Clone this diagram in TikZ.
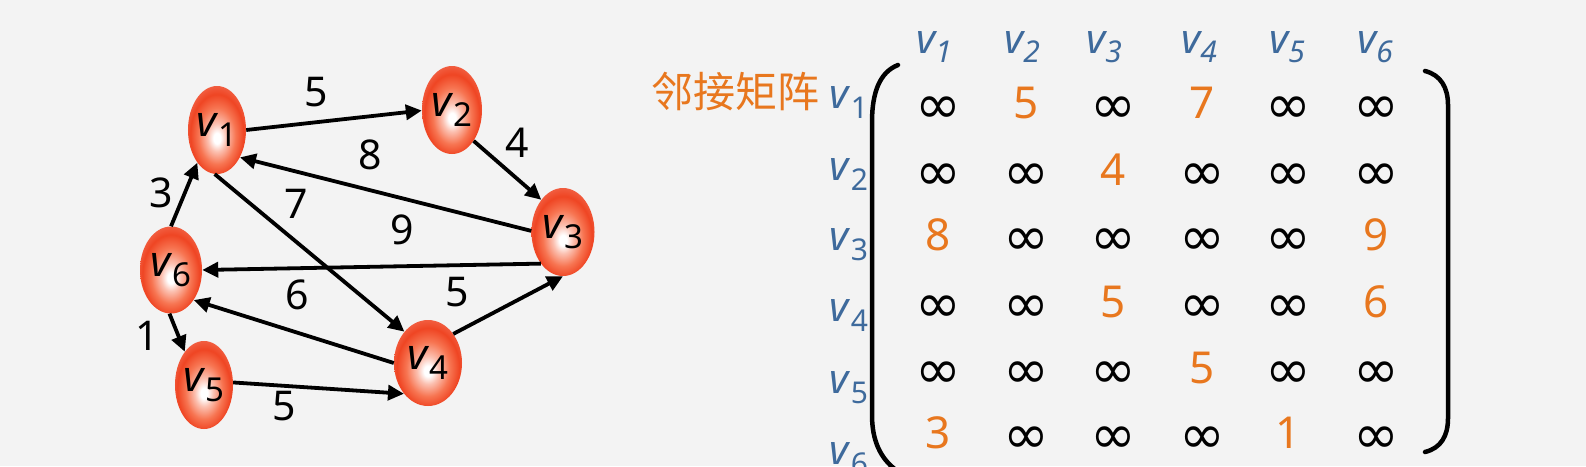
\documentclass[tikz,border=0pt]{standalone}
\usepackage{fontspec}
\setmainfont{Noto Sans}
\newfontfamily\cjk{Noto Sans CJK SC}
\newfontfamily\djv{DejaVu Sans}
\usetikzlibrary{shapes.geometric,arrows.meta}
\definecolor{bg}{HTML}{F3F3F3}
\definecolor{nodeouter}{HTML}{EF4523}
\definecolor{nodemid}{HTML}{F77552}
\definecolor{lblue}{HTML}{3E6A9C}
\definecolor{lorange}{HTML}{E8771E}
\pgfdeclareradialshading{vshade}{\pgfpoint{0bp}{-5bp}}{color(0bp)=(white); color(3bp)=(white); color(8bp)=(white!55!nodemid); color(16bp)=(nodemid); color(23bp)=(nodeouter); color(28bp)=(nodeouter!85!white); color(50bp)=(nodeouter!85!white)}
\newcommand{\vl}[1]{\textit{v}\raisebox{-10pt}{\fontsize{33}{33}\selectfont #1}}
\newcommand{\hl}[1]{\textit{v\raisebox{-9pt}{\fontsize{30}{30}\selectfont #1}}}
\newcommand{\rl}[1]{\textit{v}\raisebox{-10pt}{\fontsize{30}{30}\selectfont #1}}
\newcommand{\infsym}{\raisebox{-5pt}{\djv\fontsize{55}{55}\selectfont ∞}}
\tikzset{
  vert/.style={ellipse, shade, shading=vshade, inner sep=0pt, font=\fontsize{43}{43}\selectfont},
  edge/.style={line width=3.8pt, -{Triangle[length=16pt,width=15pt]}},
  wlab/.style={font=\fontsize{41}{41}\selectfont, text height=29pt, text depth=0pt, inner sep=0pt},
  cell/.style={font=\fontsize{44}{44}\selectfont, text height=31pt, text depth=0pt, inner sep=0pt},
  num/.style={cell, text=lorange},
  hdr/.style={text=lblue, font=\fontsize{41}{41}\selectfont, anchor=base, inner sep=0pt},
  brk/.style={line width=4.5pt, line cap=round},
}
\begin{document}
\begin{tikzpicture}[x=1pt,y=-1pt]
\fill[bg] (0,0) rectangle (1586,466);
\useasboundingbox (0,0) rectangle (1586,466);
% graph nodes
\node[vert, minimum width=58pt, minimum height=88pt] (v1) at (217,130) {\vl{1}};
\node[vert, minimum width=60pt, minimum height=88pt] (v2) at (452,110) {\vl{2}};
\node[vert, minimum width=63pt, minimum height=88pt] (v3) at (563,232) {\vl{3}};
\node[vert, minimum width=68pt, minimum height=86pt] (v4) at (428,363) {\vl{4}};
\node[vert, minimum width=54pt, minimum height=88pt] (v5) at (204,385) {\vl{5}};
\node[vert, minimum width=62pt, minimum height=87pt] (v6) at (171,270) {\vl{6}};
% edges
\draw[edge] (v1.0) -- (v2.181);
\draw[edge] (v2.305) -- (v3.124);
\draw[edge] (v3.178) -- (v1.-50);
\draw[edge] (v1.-93) -- (v4.127);
\draw[edge] (v3.235) -- (v6.0);
\draw[edge] (v4.49) -- (v3.-90);
\draw[edge] (v4.180) -- (v6.-53);
\draw[edge] (v6.90) -- (v1.239);
\draw[edge] (v6.-92) -- (v5.120);
\draw[edge] (v5.5) -- (v4.232);
% edge labels
\node[wlab] (w12) at (316,92) {5};
\node[wlab] (w23) at (517,143) {4};
\node[wlab] (w31) at (370,155) {8};
\node[wlab] (w14) at (296,204) {7};
\node[wlab] (w36) at (402,230) {9};
\node[wlab] (w46) at (297,295) {6};
\node[wlab] (w43) at (457,292) {5};
\node[wlab] (w61) at (161,193) {3};
\node[wlab] (w65) at (147,336) {1};
\node[wlab] (w54) at (284,406) {5};
% title
\node[text=lorange, font=\cjk\fontsize{42}{42}\selectfont, anchor=base, inner sep=0pt] (title) at (735,107) {邻接矩阵};
% column headers
\node[hdr] (h1) at (934,53) {\hl{1}};
\node[hdr] (h2) at (1022,53) {\hl{2}};
\node[hdr] (h3) at (1104,53) {\hl{3}};
\node[hdr] (h4) at (1199,53) {\hl{4}};
\node[hdr] (h5) at (1287,53) {\hl{5}};
\node[hdr] (h6) at (1375,53) {\hl{6}};
% row labels
\node[hdr] (r1) at (849,108) {\rl{1}};
\node[hdr] (r2) at (849,180) {\rl{2}};
\node[hdr] (r3) at (849,250) {\rl{3}};
\node[hdr] (r4) at (849,321) {\rl{4}};
\node[hdr] (r5) at (849,393) {\rl{5}};
\node[hdr] (r6) at (849,464) {\rl{6}};
% matrix entries
\foreach \row [count=\r] in {{0,5,0,7,0,0},{0,0,4,0,0,0},{8,0,0,0,0,9},{0,0,5,0,0,6},{0,0,0,5,0,0},{3,0,0,0,1,0}} {
  \foreach \val [count=\c] in \row {
    \pgfmathsetmacro{\xx}{{938,1026,1113,1202,1288,1376}[\c-1]}
    \pgfmathsetmacro{\yy}{{103,170,235,302,368,433}[\r-1]}
    \ifnum\val=0
      \node[cell] (m\r\c) at (\xx,\yy) {\infsym};
    \else
      \node[num] (m\r\c) at (\xx,\yy) {\val};
    \fi
  }
}
% brackets
\draw[brk] (898,65) .. controls (880,72) and (872,92) .. (872,122) -- (872,415) .. controls (872,440) and (880,458) .. (896,470);
\draw[brk] (1425,71) .. controls (1441,75) and (1448,88) .. (1448,105) -- (1448,418) .. controls (1448,436) and (1441,448) .. (1425,452);
\end{tikzpicture}
\end{document}
